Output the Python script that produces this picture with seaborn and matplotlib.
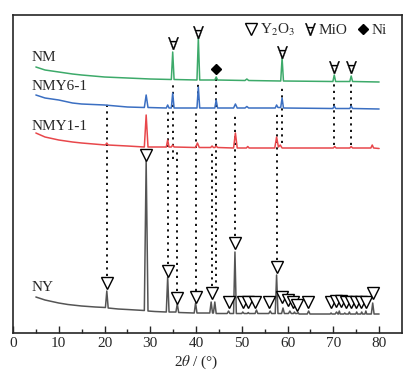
import numpy as np
import pandas as pd
import matplotlib
matplotlib.use("Agg")
import matplotlib.pyplot as plt
import seaborn as sns
from matplotlib.lines import Line2D

# XRD patterns, (2theta, intensity in arbitrary stacked units)
nm_pts = [(5,266),(7,263),(10,261),(13,259),(15,258),(20,256),(25,255),(30,254),
          (34.6,253.5),(34.9,281),(35.2,253.5),(40.2,253),(40.5,295),(40.8,253),
          (44.1,253),(44.4,256),(44.7,253),(50.7,252.5),(51.1,254),(51.5,252.5),
          (58.5,252),(58.8,275),(59.1,252),(69.9,251.5),(70.2,258),(70.5,251.5),
          (73.6,251.5),(73.9,257),(74.2,251.5),(80,251)]
nmy61_pts = [(5,238),(7,235),(10,233),(13,230),(15,229),(20,228),(25,226),(28.7,225.5),
             (29.1,238),(29.5,225.5),(33.5,225),(33.8,228),(34.1,225),(34.6,225),(34.9,240),
             (35.2,225),(40.2,225),(40.5,246),(40.8,225),(44.1,225),(44.4,233),(44.7,225),
             (48.2,225),(48.6,229),(49,225),(50.7,225),(51.1,226.5),(51.5,225),(57.3,225),
             (57.6,228),(57.9,225.5),(58.5,225.5),(58.8,235),(59.1,225),(69.9,224.5),
             (70.2,227),(70.5,224.5),(73.6,224.5),(73.9,227),(74.2,224.5),(80,224)]
nmy11_pts = [(5,200),(7,196),(10,193),(13,191),(15,190),(20.2,188),(20.5,190),(20.8,188),
             (25,187),(28.7,186),(29.1,218),(29.5,186),(33.5,186),(33.8,193),(34.1,186),
             (34.6,186),(34.9,188),(35.2,186),(39.9,185.5),(40.3,190),(40.7,185.5),
             (43.2,185.5),(43.5,187),(43.8,185.5),(44.1,185.5),(44.4,187),(44.7,185.5),
             (48.2,185),(48.6,200),(49,185),(51,185),(51.3,186.5),(51.6,185),(57.2,185),
             (57.6,196),(58,186),(58.4,188),(58.8,185),(70,185),(70.3,186.5),(70.6,185),
             (73.6,185),(73.9,186.5),(74.2,185),(78.2,185),(78.5,188),(78.8,185),(80,184.5)]
ny_pts = [(5,36),(7,33),(10,30),(12,28.5),(15,27),(18,26),(20.2,25.5),(20.5,42),(20.8,25),
          (23,24),(25,23.5),(28.7,22.5),(29.1,172),(29.5,22),(31,21.5),(33.5,21),(33.8,56),
          (34.1,21),(35.6,21),(35.9,29),(36.2,20.5),(39.6,20),(39.9,30),(40.2,20),(43.0,20),
          (43.3,31),(43.6,20),(43.8,20),(44.1,31),(44.4,19.5),(46.8,19.5),(47.1,22),
          (47.4,19.5),(48.2,19.5),(48.5,81),(48.8,19.5),(50,19.5),(50.2,21),(50.5,19.5),
          (51.2,19.5),(51.4,20.5),(51.6,19.5),(52.9,19.5),(53.2,23),(53.5,19.5),(55.9,19.5),
          (56.2,22),(56.5,19.5),(57.3,19.5),(57.6,58),(57.9,19.5),(58.7,19.5),(59.0,25),
          (59.3,19.5),(60.2,19.5),(60.5,22),(60.8,19.5),(61.3,19.5),(61.5,21),(61.7,19.5),
          (62.1,19.5),(62.3,20.5),(62.5,19),(64.3,19),(64.6,22),(64.9,19),(69.3,19),
          (69.5,20),(69.7,19),(70.4,19),(70.7,21),(71.0,19),(71.1,19),(71.3,22),(71.5,19),
          (72.3,19),(72.5,20),(72.7,19),(73.3,19),(73.5,21),(73.7,19),(74.9,19),(75.1,21),
          (75.3,19),(76.0,19),(76.2,21),(76.4,19),(76.9,19),(77.1,22),(77.3,19),(78.3,19),
          (78.6,30),(78.9,19),(80,19)]

samples = ["NM", "NMY6-1", "NMY1-1", "NY"]
colors = ["#3daa6a", "#3b6fc2", "#e8474b", "#555555"]
label_y = [275, 247, 207, 46]

# phase markers
y2o3_x = [20.5, 29.1, 33.8, 35.9, 39.9, 43.5, 47.1, 48.5, 50.2, 51.4, 52.9, 56.0, 57.6, 58.8,
          60.2, 61.2, 62.1, 64.5, 69.5, 70.6, 71.6, 72.8, 73.9, 75.0, 76.0, 77.2, 78.6]
y2o3_y = [50, 178, 62, 35, 36, 40, 31, 90, 31, 31, 31, 31, 66, 36,
          33, 31, 28, 31, 31, 32, 32, 31, 31, 31, 31, 31, 40]
mio_x = [34.9, 40.5, 58.8, 70.2, 73.9]
mio_y = [290, 301, 281, 266, 266]
ni_x = [44.4]
ni_y = [264]

# dotted guide lines
dot_x = [20.5, 33.8, 34.9, 35.9, 39.9, 40.5, 43.5, 44.4, 48.6, 57.6, 58.8, 70.2, 73.9]
dot_lo = [57, 69, 174, 42, 42, 233, 47, 44, 97, 73, 190, 188, 188]
dot_hi = [230, 221, 250, 181, 221, 250, 181, 258, 218, 221, 248, 250, 250]

frames = []
for name, pts in zip(samples, [nm_pts, nmy61_pts, nmy11_pts, ny_pts]):
    d = pd.DataFrame(pts, columns=["two_theta", "intensity"])
    d["sample"] = name
    frames.append(d)
df = pd.concat(frames, ignore_index=True)

sns.set_style("ticks")
plt.rcParams["font.family"] = ["Liberation Serif", "DejaVu Serif"]
plt.rcParams["mathtext.fontset"] = "stix"

fig = plt.figure(figsize=(4.19, 3.74), dpi=100)
ax = fig.add_axes([0.031, 0.1096, 0.9284, 0.8503])

ax.vlines(dot_x, dot_lo, dot_hi, colors="black", linestyles=(0, (1.2, 2.4)), lw=1.3, zorder=1)

sns.lineplot(data=df, x="two_theta", y="intensity", hue="sample", palette=colors,
             hue_order=samples, estimator=None, sort=False, lw=1.1, legend=False, ax=ax,
             zorder=2)

tri = dict(ls="none", marker="v", ms=8.5, mfc="white", mec="black", mew=1.0)
fa = dict(ls="none", marker=r"$\forall$", ms=9, color="black", mew=0.2)
dia = dict(ls="none", marker="D", ms=5.5, color="black")

ax.plot(y2o3_x, y2o3_y, zorder=3, **tri)
ax.plot(mio_x, mio_y, zorder=3, **fa)
ax.plot(ni_x, ni_y, zorder=3, **dia)

for name, yy in zip(samples, label_y):
    ax.text(4.1, yy, name, fontsize=11, ha="left", va="center")

handles = [Line2D([], [], **tri), Line2D([], [], **fa), Line2D([], [], **dia)]
ax.legend(handles, [r"Y$_2$O$_3$", "MiO", "Ni"], ncol=3, frameon=False, loc="upper right",
          bbox_to_anchor=(0.995, 1.02), fontsize=11, handletextpad=0.1, columnspacing=0.55,
          handlelength=0.9)

ax.set_xlim(0, 85)
ax.set_ylim(0, 318)
ax.set_xticks(range(0, 81, 10))
ax.set_xticks(range(5, 81, 10), minor=True)
ax.set_yticks([])
ax.tick_params(axis="x", which="major", direction="in", length=5, width=1.0, labelsize=11, pad=3)
ax.tick_params(axis="x", which="minor", direction="in", length=3, width=1.0)
for s in ax.spines.values():
    s.set_linewidth(1.2)
    s.set_visible(True)
ax.set_xlabel(r"2$\it{\theta}$ / (°)", fontsize=11)
ax.xaxis.set_label_coords(0.47, -0.065)
ax.set_ylabel("")

fig.savefig("out.png", dpi=100)
